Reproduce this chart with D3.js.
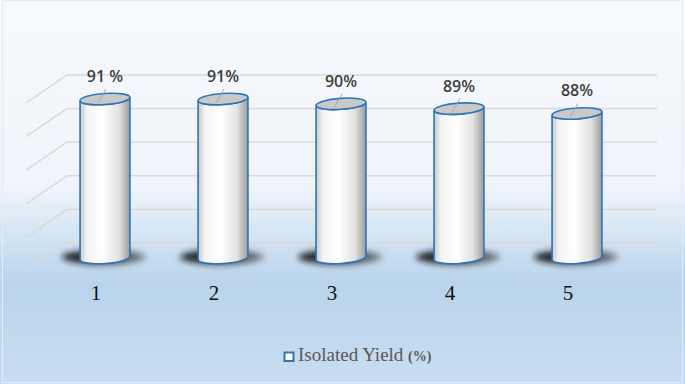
<!DOCTYPE html>
<html>
<head>
<meta charset="utf-8">
<script src="https://cdn.jsdelivr.net/npm/d3@7"></script>
<style>
  html, body { margin: 0; padding: 0; background: #fff; }
  svg { display: block; }
</style>
</head>
<body>
<svg id="chart" width="685" height="384"></svg>
<script>
// chart values
var categories = ["1", "2", "3", "4", "5"];
var yields = [91, 91, 90, 89, 88];
var valueLabels = ["91 %", "91%", "90%", "89%", "88%"];
var gridTicks = [0, 20, 40, 60, 80, 100];
var legendLabel = "Isolated Yield";
var legendUnit = "(%)";

var width = 685, height = 384;
var svg = d3.select("#chart");
var defs = svg.append("defs");

// background gradient
var bg = defs.append("linearGradient").attr("id", "bg")
  .attr("x1", 0).attr("y1", 0).attr("x2", 0).attr("y2", 1);
bg.append("stop").attr("offset", "0%").attr("stop-color", "#f6f9fd");
bg.append("stop").attr("offset", "48%").attr("stop-color", "#f0f5fb");
bg.append("stop").attr("offset", "74%").attr("stop-color", "#b9d4ec");
bg.append("stop").attr("offset", "100%").attr("stop-color", "#c9ddf0");

// cylinder side shading
var cyl = defs.append("linearGradient").attr("id", "cyl")
  .attr("x1", 0).attr("y1", 0).attr("x2", 1).attr("y2", 0);
cyl.append("stop").attr("offset", "0%").attr("stop-color", "#c8c8c8");
cyl.append("stop").attr("offset", "14%").attr("stop-color", "#f4f4f4");
cyl.append("stop").attr("offset", "45%").attr("stop-color", "#ffffff");
cyl.append("stop").attr("offset", "78%").attr("stop-color", "#e2e2e2");
cyl.append("stop").attr("offset", "100%").attr("stop-color", "#9c9c9c");

// shadow, darker on the left
var shd = defs.append("linearGradient").attr("id", "shd")
  .attr("x1", 0).attr("y1", 0).attr("x2", 1).attr("y2", 0);
shd.append("stop").attr("offset", "0%").attr("stop-color", "#111").attr("stop-opacity", 0.95);
shd.append("stop").attr("offset", "55%").attr("stop-color", "#222").attr("stop-opacity", 0.85);
shd.append("stop").attr("offset", "100%").attr("stop-color", "#444").attr("stop-opacity", 0.6);

defs.append("filter").attr("id", "blur")
  .attr("x", "-50%").attr("y", "-100%").attr("width", "200%").attr("height", "300%")
  .append("feGaussianBlur").attr("stdDeviation", 3);

svg.append("rect")
  .attr("x", 0).attr("y", 0).attr("width", width).attr("height", height)
  .attr("fill", "url(#bg)");
svg.append("rect")
  .attr("x", 2.5).attr("y", 0.5).attr("width", width - 5).attr("height", height - 2)
  .attr("fill", "none").attr("stroke", "#e4ebf3").attr("stroke-width", 1);

// scales
var wallLeft = 67, wallRight = 657;
var depthX = -41, depthY = 28;

var gridScale = d3.scaleLinear().domain([0, 100]).range([243, 75]);

var xScale = d3.scaleBand()
  .domain(categories)
  .range([46, 636])
  .padding(0);

var yScale = d3.scaleLinear().domain([58, 91]).range([258, 99]);

// back wall gridlines + side wall diagonals
var grid = svg.append("g").attr("class", "grid");
grid.selectAll(".hline")
  .data(gridTicks)
  .enter().append("line")
  .attr("class", "hline")
  .attr("x1", wallLeft).attr("x2", wallRight)
  .attr("y1", function(d){ return gridScale(d); })
  .attr("y2", function(d){ return gridScale(d); })
  .attr("stroke", "#d9d9d9").attr("stroke-width", 1.5);

grid.selectAll(".dline")
  .data(gridTicks)
  .enter().append("line")
  .attr("class", "dline")
  .attr("x1", wallLeft)
  .attr("y1", function(d){ return gridScale(d); })
  .attr("x2", wallLeft + depthX)
  .attr("y2", function(d){ return gridScale(d) + depthY; })
  .attr("stroke", "#d9d9d9").attr("stroke-width", 1.5);

// cylinders
var rx = 25, ry = 5.5, tilt = -4;
var ex = rx * Math.cos(tilt * Math.PI / 180),
    ey = rx * Math.sin(tilt * Math.PI / 180);

var data = categories.map(function(c, i){
  return { cat: c, value: yields[i], label: valueLabels[i] };
});

function cx(d){ return xScale(d.cat) + xScale.bandwidth() / 2; }

var bars = svg.append("g").attr("class", "bars")
  .selectAll(".bar")
  .data(data)
  .enter().append("g")
  .attr("class", "bar");

bars.append("ellipse")
  .attr("cx", function(d){ return cx(d) - 1; })
  .attr("cy", yScale(58) - 1)
  .attr("rx", 42).attr("ry", 7.5)
  .attr("fill", "url(#shd)")
  .attr("filter", "url(#blur)");

bars.append("path")
  .attr("d", function(d){
    var x = cx(d), yt = yScale(d.value), yb = yScale(58);
    return "M" + (x - ex) + "," + (yt - ey) +
      "L" + (x - ex) + "," + (yb - ey) +
      "A" + rx + "," + ry + " " + tilt + " 0 0 " + (x + ex) + "," + (yb + ey) +
      "L" + (x + ex) + "," + (yt + ey) +
      "A" + rx + "," + ry + " " + tilt + " 0 1 " + (x - ex) + "," + (yt - ey) + "Z";
  })
  .attr("fill", "url(#cyl)")
  .attr("stroke", "#2e75b6")
  .attr("stroke-width", 1.6);

bars.append("ellipse")
  .attr("transform", function(d){
    return "translate(" + cx(d) + "," + yScale(d.value) + ") rotate(" + tilt + ")";
  })
  .attr("rx", rx).attr("ry", ry)
  .attr("fill", "#c9c9c9")
  .attr("stroke", "#2e75b6")
  .attr("stroke-width", 1.6);

// leader lines and data labels
bars.append("line")
  .attr("x1", function(d){ return cx(d) + 1; })
  .attr("y1", function(d){ return yScale(d.value) - 10; })
  .attr("x2", function(d){ return cx(d) - 7; })
  .attr("y2", function(d){ return yScale(d.value) + 4; })
  .attr("stroke", "#a6a6a6").attr("stroke-width", 1);

bars.append("text")
  .attr("x", function(d){ return cx(d); })
  .attr("y", function(d){ return yScale(d.value) - 17; })
  .attr("text-anchor", "middle")
  .attr("font-family", "'Open Sans', 'DejaVu Sans', sans-serif")
  .attr("font-weight", 600)
  .attr("font-size", 16)
  .attr("fill", "#404040")
  .text(function(d){ return d.label; });

// category labels
svg.append("g").selectAll(".cat")
  .data(categories)
  .enter().append("text")
  .attr("class", "cat")
  .attr("x", function(d){ return xScale(d) + xScale.bandwidth() / 2 - 9; })
  .attr("y", 300)
  .attr("text-anchor", "middle")
  .attr("font-family", "'Liberation Serif', 'Times New Roman', serif")
  .attr("font-size", 21)
  .attr("fill", "#111")
  .text(function(d){ return d; });

// legend
var legend = svg.append("g").attr("transform", "translate(284,352)");
legend.append("rect")
  .attr("x", 0.5).attr("y", 0.5).attr("width", 9).attr("height", 8.5)
  .attr("fill", "#fff").attr("stroke", "#2e75b6").attr("stroke-width", 2);
var lt = legend.append("text")
  .attr("x", 14).attr("y", 9)
  .attr("font-family", "'Liberation Serif', 'Times New Roman', serif")
  .attr("fill", "#595959");
lt.append("tspan").attr("font-size", 19).text(legendLabel + " ");
lt.append("tspan").attr("font-size", 14).attr("font-weight", "bold").text(legendUnit);
</script>
</body>
</html>
